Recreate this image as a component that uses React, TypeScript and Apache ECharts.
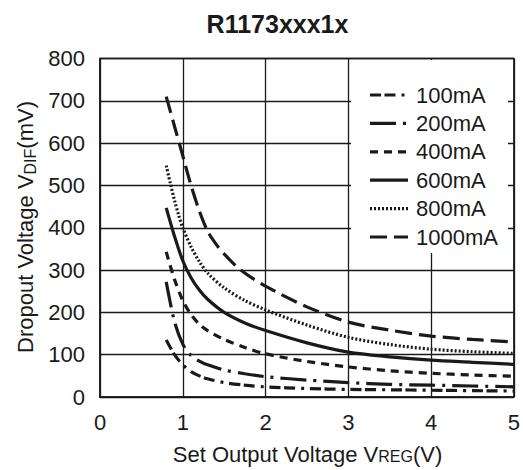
import { useEffect, useRef } from "react";
import * as echarts from "echarts";

const chartTitle = "R1173xxx1x";
const xAxisTitle = ["Set Output Voltage V", "REG", "(V)"];
const yAxisTitle = ["Dropout Voltage V", "DIF", "(mV)"];
const seriesNames = ["100mA", "200mA", "400mA", "600mA", "800mA", "1000mA"];

const vreg100 = [0.8, 0.9, 1.0, 1.1, 1.2, 1.3, 1.5, 1.75, 2, 2.5, 3, 3.5, 4, 4.5, 5];
const vdif100 = [135, 100, 76, 60, 50, 43, 34, 28, 24, 20, 18, 17, 16, 15, 14];

const vreg200 = [0.8, 0.9, 1.0, 1.1, 1.2, 1.3, 1.5, 1.75, 2, 2.5, 3, 3.5, 4, 4.5, 5];
const vdif200 = [272, 178, 125, 98, 85, 76, 64, 55, 48, 40, 34, 30, 28, 26, 24];

const vreg400 = [0.8, 0.9, 1.0, 1.1, 1.2, 1.3, 1.5, 1.75, 2, 2.5, 3, 3.5, 4, 4.5, 5];
const vdif400 = [343, 278, 228, 195, 172, 157, 136, 117, 102, 84, 71, 62, 56, 52, 49];

const vreg600 = [0.8, 0.9, 1.0, 1.1, 1.2, 1.3, 1.5, 1.75, 2, 2.5, 3, 3.5, 4, 4.5, 5];
const vdif600 = [447, 380, 322, 282, 253, 231, 200, 175, 157, 128, 106, 95, 87, 82, 77];

const vreg800 = [0.8, 0.85, 0.9, 0.95, 1.0, 1.1, 1.2, 1.3, 1.5, 1.75, 2, 2.5, 3, 3.5, 4, 4.5, 5];
const vdif800 = [547, 505, 465, 430, 400, 355, 320, 293, 258, 228, 206, 170, 141, 124, 113, 107, 103];

const vreg1000 = [0.8, 0.9, 1.0, 1.1, 1.2, 1.3, 1.4, 1.5, 1.7, 2, 2.5, 3, 3.5, 4, 4.5, 5];
const vdif1000 = [710, 640, 570, 500, 440, 392, 362, 338, 300, 262, 213, 177, 158, 144, 136, 130];

const xs = [vreg100, vreg200, vreg400, vreg600, vreg800, vreg1000];
const ys = [vdif100, vdif200, vdif400, vdif600, vdif800, vdif1000];
const dashes: any[] = [
  [11, 3.5, 11, 6, 3, 6],
  [26, 7, 3, 7],
  [8, 6],
  "solid",
  [2, 2],
  [17, 7],
];

const FONT = "'Liberation Sans', Arial, Helvetica, sans-serif";
const INK = "#1a1a1a";

export default function App() {
  const ref = useRef<HTMLDivElement>(null);
  useEffect(() => {
    if (!ref.current) return;
    const chart = echarts.init(ref.current, undefined, { renderer: "svg" });
    const series = seriesNames.map((name, i) => ({
      name,
      type: "line",
      data: xs[i].map((x, j) => [x, ys[i][j]]),
      showSymbol: false,
      symbol: "none",
      smooth: 0.3,
      lineStyle: { color: INK, width: 3.2, type: dashes[i], cap: "butt" },
      itemStyle: { color: INK },
      emphasis: { disabled: true },
      z: 3,
    }));

    const legendLeft = 351;
    const legendTop = 60;
    const rowTop = 95;
    const rowPitch = 28.4;
    const legendItems: any[] = [
      {
        type: "rect",
        shape: { x: legendLeft, y: legendTop, width: 157, height: 193 },
        style: { fill: "#ffffff" },
        z: 10,
      },
    ];
    seriesNames.forEach((name, i) => {
      const y = rowTop + i * rowPitch;
      legendItems.push({
        type: "line",
        shape: { x1: 370, y1: y, x2: 408, y2: y },
        style: {
          stroke: INK,
          lineWidth: 3.2,
          lineDash: Array.isArray(dashes[i]) ? dashes[i] : null,
          lineCap: "butt",
        },
        z: 11,
      });
      legendItems.push({
        type: "text",
        x: 416,
        y,
        style: {
          text: name,
          fontSize: 22,
          fontFamily: FONT,
          fill: INK,
          align: "left",
          verticalAlign: "middle",
        },
        z: 11,
      });
    });

    chart.setOption({
      animation: false,
      grid: {
        left: 100,
        right: 7,
        top: 58.5,
        bottom: 73,
        show: true,
        borderColor: INK,
        borderWidth: 1.5,
        backgroundColor: "transparent",
      },
      xAxis: {
        type: "value",
        min: 0,
        max: 5,
        interval: 1,
        axisLine: { show: true, lineStyle: { color: INK, width: 1.5 } },
        axisTick: { show: false },
        axisLabel: { color: INK, fontSize: 22, fontFamily: FONT, margin: 14 },
        splitLine: { show: true, lineStyle: { color: INK, width: 1.3 } },
      },
      yAxis: {
        type: "value",
        min: 0,
        max: 800,
        interval: 100,
        axisLine: { show: true, lineStyle: { color: INK, width: 1.5 } },
        axisTick: { show: false },
        axisLabel: { color: INK, fontSize: 22, fontFamily: FONT, margin: 15 },
        splitLine: { show: true, lineStyle: { color: INK, width: 1.3 } },
      },
      graphic: [
        ...legendItems,
        {
          type: "text",
          x: 277.5,
          y: 23.5,
          style: {
            text: chartTitle,
            fontSize: 25,
            fontWeight: "bold",
            fontFamily: FONT,
            fill: INK,
            align: "center",
            verticalAlign: "middle",
          },
        },
        {
          type: "text",
          x: 307.5,
          y: 452,
          style: {
            text: `{n|${xAxisTitle[0]}}{s|${xAxisTitle[1]}}{n|${xAxisTitle[2]}}`,
            align: "center",
            verticalAlign: "middle",
            rich: {
              n: { fontSize: 22, fontFamily: FONT, fill: INK, lineHeight: 26, verticalAlign: "bottom" },
              s: { fontSize: 16, fontFamily: FONT, fill: INK, lineHeight: 26, verticalAlign: "bottom", padding: [0, 0, 1, 0] },
            },
          },
        },
        {
          type: "text",
          x: 23,
          y: 227,
          rotation: Math.PI / 2,
          style: {
            text: `{n|${yAxisTitle[0]}}{s|${yAxisTitle[1]}}{n|${yAxisTitle[2]}}`,
            align: "center",
            verticalAlign: "middle",
            rich: {
              n: { fontSize: 22, fontFamily: FONT, fill: INK, lineHeight: 26, verticalAlign: "bottom" },
              s: { fontSize: 16, fontFamily: FONT, fill: INK, lineHeight: 26, verticalAlign: "bottom", padding: [0, 0, -2, 0] },
            },
          },
        },
      ],
      series,
    });
    return () => chart.dispose();
  }, []);
  return (
    <div
      ref={ref}
      style={{ position: "fixed", left: 0, top: 0, width: 523, height: 470, background: "#fff" }}
    />
  );
}
